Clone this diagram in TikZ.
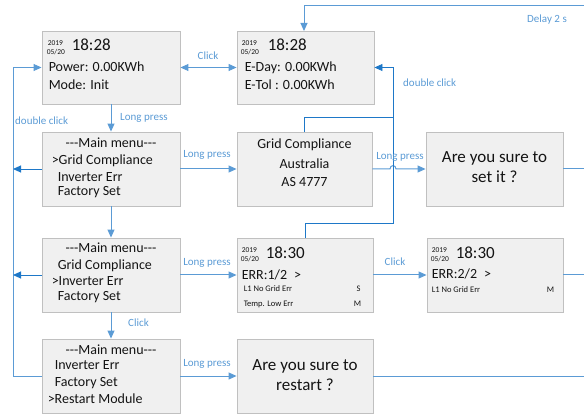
\documentclass[tikz,border=0pt]{standalone}
\usepackage{fontspec}
\setmainfont{Carlito}
\usetikzlibrary{arrows.meta,calc}
\definecolor{lb}{RGB}{91,155,213}
\definecolor{db}{RGB}{30,120,200}
\definecolor{boxfill}{RGB}{240,240,240}
\definecolor{boxline}{RGB}{192,192,192}
\definecolor{ink}{RGB}{20,20,20}
\newcommand{\dashes}{{-}{-}{-}}
\begin{document}
\begin{tikzpicture}[x=1pt,y=-1pt,
  scr/.style={draw=boxline, fill=boxfill, line width=0.9pt, minimum width=#1, minimum height=74pt, inner sep=0pt},
  scr/.default=136pt,
  tx/.style={inner sep=0pt, text height=0.64em, text depth=0pt, text=ink, anchor=west},
  ctx/.style={tx, anchor=center},
  f7/.style={font=\fontsize{7.5}{8}\selectfont},
  f8/.style={font=\fontsize{8.5}{9}\selectfont},
  f14/.style={font=\fontsize{14}{16}\selectfont},
  f17/.style={font=\fontsize{17}{20}\selectfont},
  lbl/.style={inner sep=0pt, text height=0.64em, text depth=0pt, text=lb, font=\fontsize{11}{12}\selectfont},
  conn/.style={draw=lb, line width=1pt},
  dconn/.style={draw=db, line width=0.9pt},
  arr/.style={-{Triangle[length=8pt,width=7pt]}},
  darr/.style={{Triangle[length=8pt,width=7pt]}-{Triangle[length=8pt,width=7pt]}}
]
\useasboundingbox (0,0) rectangle (584,414);

% screens
\node[scr=138pt, minimum height=73pt] (A) at (111,67.5) {};
\node[scr=137pt, minimum height=73pt] (B) at (305.5,67.5) {};
\node[scr=138pt] (C) at (111,169) {};
\node[scr=135pt] (D) at (304.5,169) {};
\node[scr=137pt] (E) at (494.5,169) {};
\node[scr=138pt] (F) at (111,275) {};
\node[scr=136pt] (G) at (305,275) {};
\node[scr=136pt] (H) at (495,275) {};
\node[scr=138pt] (I) at (111,376) {};
\node[scr=136pt] (J) at (305,376) {};

% A
\node[tx,f7]  (Ay) at ([shift={(6,12)}]A.north west) {2019};
\node[tx,f7]  (Ad) at ([shift={(5,21)}]A.north west) {05/20};
\node[tx,f17] (At) at ([shift={(30,17)}]A.north west) {18:28};
\node[tx,f14] (A1) at ([shift={(7,38)}]A.north west) {Power: 0.00KWh};
\node[tx,f14] (A2) at ([shift={(7,56)}]A.north west) {Mode: Init};
% B
\node[tx,f7]  (By) at ([shift={(5,12)}]B.north west) {2019};
\node[tx,f7]  (Bd) at ([shift={(4,21)}]B.north west) {05/20};
\node[tx,f17] (Bt) at ([shift={(31,17)}]B.north west) {18:28};
\node[tx,f14] (B1) at ([shift={(8,38)}]B.north west) {E-Day: 0.00KWh};
\node[tx,f14] (B2) at ([shift={(8,56)}]B.north west) {E-Tol : 0.00KWh};
% C
\node[ctx,f14] (C0) at ([shift={(0,13)}]C.north) {\dashes Main menu\dashes};
\node[tx,f14]  (C1) at ([shift={(10,30)}]C.north west) {>Grid Compliance};
\node[tx,f14]  (C2) at ([shift={(16,47)}]C.north west) {Inverter Err};
\node[tx,f14]  (C3) at ([shift={(16,61)}]C.north west) {Factory Set};
% D
\node[ctx,f14] (D1) at ([shift={(0,14)}]D.north) {Grid Compliance};
\node[ctx,f14] (D2) at ([shift={(0,34)}]D.north) {Australia};
\node[ctx,f14] (D3) at ([shift={(0,52)}]D.north) {AS 4777};
% E
\node[ctx,f17] (E1) at ([shift={(0,-10)}]E.center) {Are you sure to};
\node[ctx,f17] (E2) at ([shift={(0,10)}]E.center) {set it ?};
% F
\node[ctx,f14] (F0) at ([shift={(0,12)}]F.north) {\dashes Main menu\dashes};
\node[tx,f14]  (F1) at ([shift={(16,29)}]F.north west) {Grid Compliance};
\node[tx,f14]  (F2) at ([shift={(10,45)}]F.north west) {>Inverter Err};
\node[tx,f14]  (F3) at ([shift={(16,60)}]F.north west) {Factory Set};
% G
\node[tx,f7]  (Gy) at ([shift={(5,12)}]G.north west) {2019};
\node[tx,f7]  (Gd) at ([shift={(4,21)}]G.north west) {05/20};
\node[tx,f17] (Gt) at ([shift={(29,18)}]G.north west) {18:30};
\node[tx,f14] (G1) at ([shift={(5,39)}]G.north west) {ERR:1/2\hspace{7pt}>};
\node[tx,f8]  (G2) at ([shift={(7,51)}]G.north west) {L1 No Grid Err};
\node[ctx,f8] (G3) at ([shift={(122,51)}]G.north west) {S};
\node[tx,f8]  (G4) at ([shift={(7,66)}]G.north west) {Temp. Low Err};
\node[ctx,f8] (G5) at ([shift={(121,66)}]G.north west) {M};
% H
\node[tx,f7]  (Hy) at ([shift={(5,12)}]H.north west) {2019};
\node[tx,f7]  (Hd) at ([shift={(4,21)}]H.north west) {05/20};
\node[tx,f17] (Ht) at ([shift={(29,18)}]H.north west) {18:30};
\node[tx,f14] (H1) at ([shift={(5,38)}]H.north west) {ERR:2/2\hspace{7pt}>};
\node[tx,f8]  (H2) at ([shift={(5,52)}]H.north west) {L1 No Grid Err};
\node[ctx,f8] (H3) at ([shift={(124,52)}]H.north west) {M};
% I
\node[ctx,f14] (I0) at ([shift={(0,13)}]I.north) {\dashes Main menu\dashes};
\node[tx,f14]  (I1) at ([shift={(13,28)}]I.north west) {Inverter Err};
\node[tx,f14]  (I2) at ([shift={(13,45)}]I.north west) {Factory Set};
\node[tx,f14]  (I3) at ([shift={(6,62)}]I.north west) {>Restart Module};
% J
\node[ctx,f17] (J1) at ([shift={(0,-9)}]J.center) {Are you sure to};
\node[ctx,f17] (J2) at ([shift={(0,11)}]J.center) {restart ?};

% coordinates
\coordinate (lcB) at (13,376);
\coordinate (dl1) at (584,6);
\coordinate (dl2) at (304,6);
\coordinate (dlB) at (304,31);
\coordinate (dcTop) at (393,67.5);
\coordinate (dcD) at (393,117);
\coordinate (dcG) at (393,223);
\coordinate (hop1) at (390,169);
\coordinate (hop2) at (396,169);
\coordinate (exE) at (584,169);
\coordinate (exH) at (584,275);
\coordinate (exJ) at (584,376);

% connectors
\draw[conn,darr] (A.east) -- (B.west);
\draw[conn,arr] (A.south) -- (C.north);
\draw[conn,arr] (C.south) -- (F.north);
\draw[conn,arr] (F.south) -- (I.north);
\draw[conn,arr] (C.east) -- (D.west);
\draw[conn,arr] (F.east) -- (G.west);
\draw[conn,arr] (G.east) -- (H.west);
\draw[conn,arr] (I.east) -- (J.west);
\draw[conn,arr] (D.east) -- (hop1) .. controls (390,164.5) and (396,164.5) .. (hop2) -- (E.west);
\draw[conn] (E.east) -- (exE);
\draw[conn] (H.east) -- (exH);
\draw[conn] (J.east) -- (exJ);
\draw[conn,arr] (I.west) -- (lcB) |- (A.west);
\draw[dconn,arr] (C.west) -- (C.west -| lcB);
\draw[dconn,arr] (F.west) -- (F.west -| lcB);
\draw[conn,arr] (dl1) -- (dl2) -- (dlB);
\draw[dconn] (D.north) |- (dcD);
\draw[dconn,arr] (G.north) |- (dcG) -- (dcTop) -- (B.east);

% labels
\node[lbl] (lAB) at (208,56) {Click};
\node[lbl,anchor=west] (lAC) at (120,117) {Long press};
\node[lbl,anchor=west] (ldc1) at (15,121) {double click};
\node[lbl,anchor=west] (ldel) at (527,19) {Delay 2 s};
\node[lbl,anchor=west] (ldc2) at (403,83) {double click};
\node[lbl] (lCD) at (207,154) {Long press};
\node[lbl] (lDE) at (400,156) {Long press};
\node[lbl] (lFG) at (207,262) {Long press};
\node[lbl] (lGH) at (395,262) {Click};
\node[lbl,anchor=west] (lFI) at (128,323) {Click};
\node[lbl] (lIJ) at (207,363) {Long press};
\end{tikzpicture}
\end{document}
